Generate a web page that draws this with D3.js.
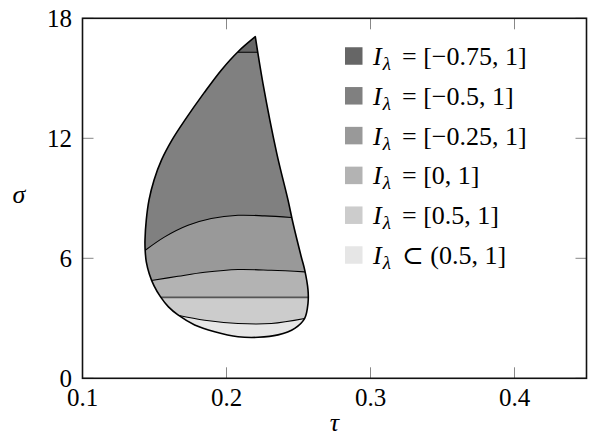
<!DOCTYPE html>
<html>
<head>
<meta charset="utf-8">
<script src="https://cdn.jsdelivr.net/npm/d3@7"></script>
<style>
  body { margin: 0; background: #fff; }
  svg text { font-family: "Liberation Serif", "DejaVu Serif", serif; fill: #000; }
</style>
</head>
<body>
<div id="chart"></div>
<script>
// outer edge of the region, (tau, sigma), from the apex clockwise
var outline = [
    [0.2200, 17.08], [0.2253, 14.75], [0.2349, 11.25], [0.2427, 8.92],
    [0.2462, 7.75], [0.2519, 6.08], [0.2543, 5.42], [0.2566, 4.42],
    [0.2566, 3.75], [0.2543, 3.00], [0.2474, 2.50], [0.2358, 2.17],
    [0.2219, 2.05], [0.2080, 2.08], [0.1918, 2.33], [0.1779, 2.67],
    [0.1663, 3.17], [0.1597, 3.57], [0.1542, 4.07], [0.1497, 4.62],
    [0.1464, 5.22], [0.1443, 5.82], [0.1435, 6.42], [0.1434, 6.92],
    [0.1443, 7.92], [0.1462, 8.92], [0.1497, 9.92], [0.1549, 10.92],
    [0.1622, 11.92], [0.1712, 12.92], [0.1844, 14.27], [0.1965, 15.42],
    [0.2080, 16.33], [0.2200, 17.08]
];

// curves separating the bands (top one first)
var edge075 = [[0.2075, 16.30], [0.2212, 16.30]];
var edge050 = [[0.1436, 6.40], [0.1571, 7.07], [0.1733, 7.65], [0.1894, 7.99],
               [0.2080, 8.15], [0.2265, 8.12], [0.2450, 8.04]];
var edge025 = [[0.1490, 4.90], [0.1663, 5.10], [0.1849, 5.30], [0.2080, 5.44],
               [0.2311, 5.40], [0.2543, 5.32]];
var edge000 = [[0.1500, 4.05], [0.2580, 4.05]];
var edgeHalf = [[0.1663, 3.15], [0.1849, 2.90], [0.2080, 2.74], [0.2311, 2.74],
                [0.2543, 2.99]];

var legendRel = ["=", "=", "=", "=", "=", "\u2282"];
var legendSets = ["[\u22120.75, 1]", "[\u22120.5, 1]", "[\u22120.25, 1]",
                  "[0, 1]", "[0.5, 1]", "(0.5, 1]"];
var xTicks = [0.1, 0.2, 0.3, 0.4];
var yTicks = [0, 6, 12, 18];

// greys, darkest band first
var shades = ["#666666", "#808080", "#999999", "#b3b3b3", "#cccccc", "#e6e6e6"];

var W = 589, H = 437;
var pL = 82.5, pR = 586.5, pT = 18.3, pB = 378.3;

var svg = d3.select("#chart").append("svg").attr("width", W).attr("height", H);

var x = d3.scaleLinear().domain([0.1, 0.45]).range([pL, pR]);
var y = d3.scaleLinear().domain([0, 18]).range([pB, pT]);

var smooth = d3.line().x(function (d) { return x(d[0]); })
    .y(function (d) { return y(d[1]); })
    .curve(d3.curveCatmullRom.alpha(0.5));

var shapePath = smooth(outline) + "Z";

svg.append("clipPath").attr("id", "shape").append("path").attr("d", shapePath);

// curve stretched flat out to both sides of the plot
function stretched(c) {
    var s0 = c[0][1], s1 = c[c.length - 1][1];
    return "M" + x(0.1) + "," + y(s0) + smooth(c).replace(/^M/, "L")
        + "L" + x(0.45) + "," + y(s1);
}
// everything above a curve
function above(c) {
    var s0 = c[0][1], s1 = c[c.length - 1][1];
    return "M" + x(0.1) + "," + y(18.5) + "L" + x(0.1) + "," + y(s0)
        + smooth(c).replace(/^M/, "L")
        + "L" + x(0.45) + "," + y(s1) + "L" + x(0.45) + "," + y(18.5) + "Z";
}

var edges = [edge075, edge050, edge025, edge000, edgeHalf];

var g = svg.append("g").attr("clip-path", "url(#shape)");

// lightest fill under everything, then stack darker bands on top
g.append("path").attr("d", shapePath).style("fill", shades[5]);
for (var i = edges.length - 1; i >= 0; i--) {
    g.append("path").attr("d", above(edges[i])).style("fill", shades[i]);
}
edges.forEach(function (c, i) {
    g.append("path").attr("d", stretched(c))
        .style("fill", "none")
        .style("stroke", i == 3 ? "#555" : "#000")
        .style("stroke-width", i == 3 ? 1.8 : 1.1);
});

svg.append("path").attr("d", shapePath)
    .style("fill", "none").style("stroke", "#000")
    .style("stroke-width", 1.6).style("stroke-linejoin", "round");

// ticks on all four sides, pointing in
var tl = 11;
xTicks.forEach(function (t) {
    svg.append("line").attr("x1", x(t)).attr("x2", x(t)).attr("y1", pB).attr("y2", pB - tl)
        .style("stroke", "#888").style("stroke-width", 1);
    svg.append("line").attr("x1", x(t)).attr("x2", x(t)).attr("y1", pT).attr("y2", pT + tl)
        .style("stroke", "#888").style("stroke-width", 1);
    svg.append("text").text(t.toFixed(1)).attr("x", x(t)).attr("y", 406)
        .attr("text-anchor", "middle").style("font-size", "25px");
});
yTicks.forEach(function (t) {
    svg.append("line").attr("x1", pL).attr("x2", pL + tl).attr("y1", y(t)).attr("y2", y(t))
        .style("stroke", "#888").style("stroke-width", 1);
    svg.append("line").attr("x1", pR).attr("x2", pR - tl).attr("y1", y(t)).attr("y2", y(t))
        .style("stroke", "#888").style("stroke-width", 1);
    svg.append("text").text(t).attr("x", 72).attr("y", y(t) + 8.5)
        .attr("text-anchor", "end").style("font-size", "25px");
});

svg.append("rect").attr("x", pL).attr("y", pT)
    .attr("width", pR - pL).attr("height", pB - pT)
    .style("fill", "none").style("stroke", "#111").style("stroke-width", 1.6);

svg.append("text").text("\u03c4").attr("x", (pL + pR) / 2).attr("y", 431)
    .attr("text-anchor", "middle").style("font-size", "26px").style("font-style", "italic");
svg.append("text").text("\u03c3").attr("x", 19).attr("y", 203)
    .attr("text-anchor", "middle").style("font-size", "26px").style("font-style", "italic");

// legend
var leg = svg.append("g");
legendSets.forEach(function (lab, i) {
    var cy = 56 + i * 39.8;
    leg.append("rect").attr("x", 345).attr("y", cy - 8.75)
        .attr("width", 17.5).attr("height", 17.5).style("fill", shades[i]);
    var t = leg.append("text").attr("x", 373).attr("y", cy + 9).style("font-size", "26px");
    t.append("tspan").text("I").style("font-style", "italic");
    t.append("tspan").text("\u03bb").style("font-style", "italic")
        .style("font-size", "19px").attr("dx", 1).attr("dy", 5);
    t.append("tspan").text(legendRel[i] + " " + lab).attr("x", 402).attr("dy", -5);
});
</script>
</body>
</html>
